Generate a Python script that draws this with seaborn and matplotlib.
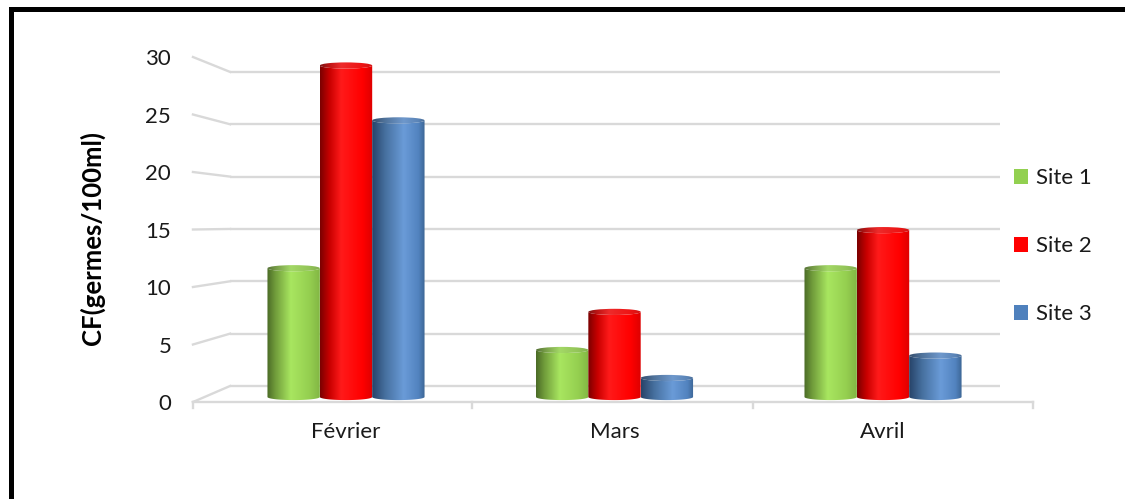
import numpy as np
import pandas as pd
import matplotlib
matplotlib.use("Agg")
import matplotlib.pyplot as plt
import seaborn as sns
from matplotlib.patches import Ellipse, PathPatch, Patch
from matplotlib.path import Path
from matplotlib.lines import Line2D
from matplotlib.colors import LinearSegmentedColormap, to_rgb

# ---- data -------------------------------------------------------------
months = ["Février", "Mars", "Avril"]
sites = ["Site 1", "Site 2", "Site 3"]
site1 = [11.5, 4.2, 11.5]
site2 = [29.6, 7.6, 14.9]
site3 = [24.7, 1.7, 3.7]
y_ticks = [0, 5, 10, 15, 20, 25, 30]
y_label = "CF(germes/100ml)"

colors = {"Site 1": "#92D050", "Site 2": "#FF0000", "Site 3": "#4F81BD"}
# left-to-right shading stops giving each column a cylinder look
shades = {
    "Site 1": [(0.0, "#4A6A26"), (0.15, "#6F9A3A"), (0.45, "#A8E660"),
               (0.8, "#95CF50"), (1.0, "#82B644")],
    "Site 2": [(0.0, "#7A0000"), (0.18, "#C80000"), (0.4, "#FF1A1A"),
               (0.8, "#FF0000"), (1.0, "#DD0000")],
    "Site 3": [(0.0, "#274368"), (0.25, "#46709F"), (0.6, "#6A9BD8"),
               (0.88, "#5283BF"), (1.0, "#3C6594")],
}

df = pd.DataFrame({
    "Mois": months * 3,
    "Site": [s for s in sites for _ in months],
    "CF": site1 + site2 + site3,
})

plt.rcParams["font.family"] = ["Lato", "DejaVu Sans"]

W, H = 1125, 499
fig = plt.figure(figsize=(W / 100, H / 100), dpi=100)
ax = fig.add_axes([190 / W, 89 / H, 845 / W, 370 / H])

sns.barplot(data=df, x="Mois", y="CF", hue="Site", order=months,
            hue_order=sites, palette=colors, width=0.585, dodge=True,
            gap=0, legend=False, errorbar=None, ax=ax)
bars = list(ax.patches)

ax.set_xlim(-0.581, 2.566)
ax.set_ylim(-1.16, 31.875)

# perspective helpers: back wall and front edge of the 3-D box
def back(v):
    return (11 + 10.47 * v) / 11.2


def front(v):
    return (-5 + 11.5 * v) / 11.2


x_front_l, x_wall_l, x_wall_r, x_front_r = -0.570, -0.432, 2.436, 2.559
grid_c = "#D9D9D9"
for v in y_ticks:
    ax.plot([x_wall_l, x_wall_r], [back(v), back(v)], color=grid_c,
            lw=1.7, zorder=0.5, solid_capstyle="butt")
    ax.plot([x_front_l, x_wall_l], [front(v), back(v)], color=grid_c,
            lw=1.7, zorder=0.5)
# floor front edge with its category separators
ax.plot([x_front_l, x_front_r], [front(0), front(0)], color=grid_c,
        lw=1.7, zorder=0.5, clip_on=False)
for xt in [x_front_l, 0.469, 1.516, x_front_r]:
    ax.plot([xt, xt], [front(0), front(0) - 0.55], color=grid_c, lw=1.7,
            zorder=0.5, clip_on=False)

# cylinder rendering on top of the seaborn bars
cap = 0.55
for p in bars:
    fc = p.get_facecolor()[:3]
    site = min(sites, key=lambda s: np.sum((np.array(to_rgb(colors[s])) - fc) ** 2))
    x0, w, h = p.get_x(), p.get_width(), p.get_height()
    cx = x0 + w / 2
    p.set_facecolor("none")
    p.set_edgecolor("none")
    cmap = LinearSegmentedColormap.from_list(site, shades[site])
    grad = np.linspace(0, 1, 256)[None, :]

    t_bot = np.linspace(np.pi, 2 * np.pi, 40)
    t_top = np.linspace(2 * np.pi, np.pi, 40)
    verts = np.vstack([
        [[x0, h]],
        np.column_stack([cx + w / 2 * np.cos(t_bot), cap / 2 * np.sin(t_bot)]),
        np.column_stack([cx + w / 2 * np.cos(t_top), h + cap / 2 * np.sin(t_top)]),
    ])
    body = PathPatch(Path(verts, closed=False), transform=ax.transData,
                     facecolor="none", edgecolor="none")
    ax.add_patch(body)
    im = ax.imshow(grad, cmap=cmap, aspect="auto", interpolation="bilinear",
                   extent=(x0, x0 + w, -cap, h + cap), zorder=2)
    im.set_clip_path(body)

    top = Ellipse((cx, h), w, cap, transform=ax.transData,
                  facecolor="none", edgecolor="none")
    ax.add_patch(top)
    cmap_top = LinearSegmentedColormap.from_list(
        site + "_top",
        [(pos, tuple(0.85 * np.array(to_rgb(c)) + 0.08)) for pos, c in shades[site]])
    im2 = ax.imshow(grad, cmap=cmap_top, aspect="auto", interpolation="bilinear",
                    extent=(x0, x0 + w, h - cap, h + cap), zorder=2.1)
    im2.set_clip_path(top)

ax.set_xlim(-0.581, 2.566)
ax.set_ylim(-1.16, 31.875)

# axes text
ax.set_yticks([front(v) for v in y_ticks], [str(v) for v in y_ticks])
ax.set_xticks(range(len(months)), months)
ax.tick_params(axis="y", length=0, pad=13.5, labelsize=16, labelcolor="#1A1A1A")
ax.tick_params(axis="x", length=0, pad=9, labelsize=16, labelcolor="#1A1A1A")
ax.set_xlabel("")
ax.set_ylabel("")
ax.text((92 - 190) / 845, (410 - 238) / 370, y_label, transform=ax.transAxes,
        rotation=90, ha="center", va="center", fontsize=18.5,
        fontweight="bold", color="black")
for s in ax.spines.values():
    s.set_visible(False)

handles = [Patch(facecolor=colors[s], edgecolor="none", label=s) for s in sites]
fig.legend(handles=handles, loc="upper left",
           bbox_to_anchor=(1014 / W, 1 - 168 / H), frameon=False,
           fontsize=16, handlelength=0.65, handleheight=0.65,
           handletextpad=0.35, labelspacing=2.17, borderpad=0,
           borderaxespad=0, labelcolor="#1A1A1A")

# chart frame (top and left edges)
fig.add_artist(Line2D([11 / W, 1.0], [1 - 8.5 / H, 1 - 8.5 / H],
                      transform=fig.transFigure, color="black", lw=3.6))
fig.add_artist(Line2D([11 / W, 11 / W], [0.0, 1 - 8.5 / H],
                      transform=fig.transFigure, color="black", lw=3.6,
                      solid_capstyle="projecting"))

fig.savefig("out.png", dpi=100)
